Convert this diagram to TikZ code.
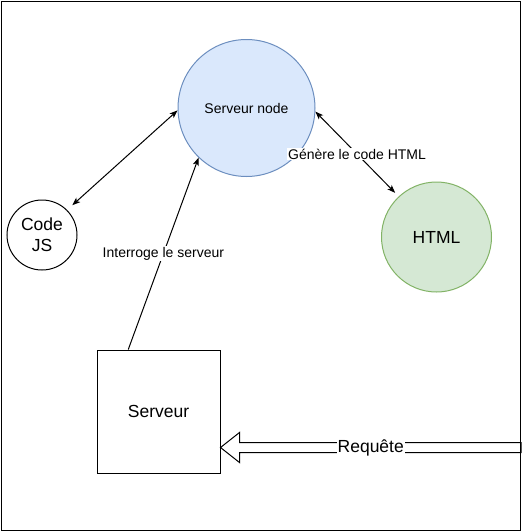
\documentclass[tikz,border=0pt]{standalone}
\usepackage{fontspec}
\setmainfont{Liberation Sans}
\usetikzlibrary{arrows.meta,calc}

\definecolor{nodefill}{HTML}{DAE8FC}
\definecolor{nodeline}{HTML}{6C8EBF}
\definecolor{htmlfill}{HTML}{D5E8D4}
\definecolor{htmlline}{HTML}{82B366}

\begin{document}
\begin{tikzpicture}[>={Stealth[length=8pt,width=6pt,inset=2pt]}, x=1pt, y=-1pt, line width=1pt,
  bubble/.style={circle, draw, inner sep=0pt, align=center},
  bigtext/.style={font=\fontsize{17.5}{21}\selectfont},
  lbl/.style={fill=white, inner sep=1pt, font=\fontsize{14}{16}\selectfont}]
  \useasboundingbox (0,0) rectangle (522,531);
  % Outer frame
  \draw (1,1) rectangle (520.5,530.5);
  % Nodes
  \node[bubble, fill=nodefill, draw=nodeline, minimum size=137pt,
    font=\fontsize{14}{16}\selectfont] (nodeserver) at (246.5,108) {Serveur node};
  \node[bubble, bigtext, minimum size=70pt] (codejs) at (42,235) {Code\\JS};
  \node[bubble, bigtext, fill=htmlfill, draw=htmlline, minimum size=110pt]
    (html) at (436.5,237) {HTML};
  \node[draw, bigtext, minimum size=123pt, inner sep=0pt] (server) at (158.5,411.5) {Serveur};
  % Connectors
  \draw[<->, shorten >=7pt] (nodeserver.182) -- (codejs.45);
  \draw[<->, shorten >=5pt] (nodeserver.357) -- node[lbl] {Génère le code HTML} (html.133);
  \draw[->] (server.116) -- node[lbl] {Interroge le serveur} (nodeserver.226);
  % Request arrow (hollow)
  \coordinate (reqtip) at ($(server.east)+(0,36)$);
  \coordinate (reqtail) at (521,447.5);
  \draw (reqtip) -- ++(19,-15) -- ++(0,10) -- ($(reqtail)+(0,-5)$)
    -- ($(reqtail)+(0,5)$) -- ($(reqtip)+(19,5)$) -- ++(0,10) -- cycle;
  \node[fill=white, inner sep=1pt, bigtext] (reqlabel)
    at ($(reqtip)!0.5!(reqtail)$) {Requête};
\end{tikzpicture}
\end{document}
